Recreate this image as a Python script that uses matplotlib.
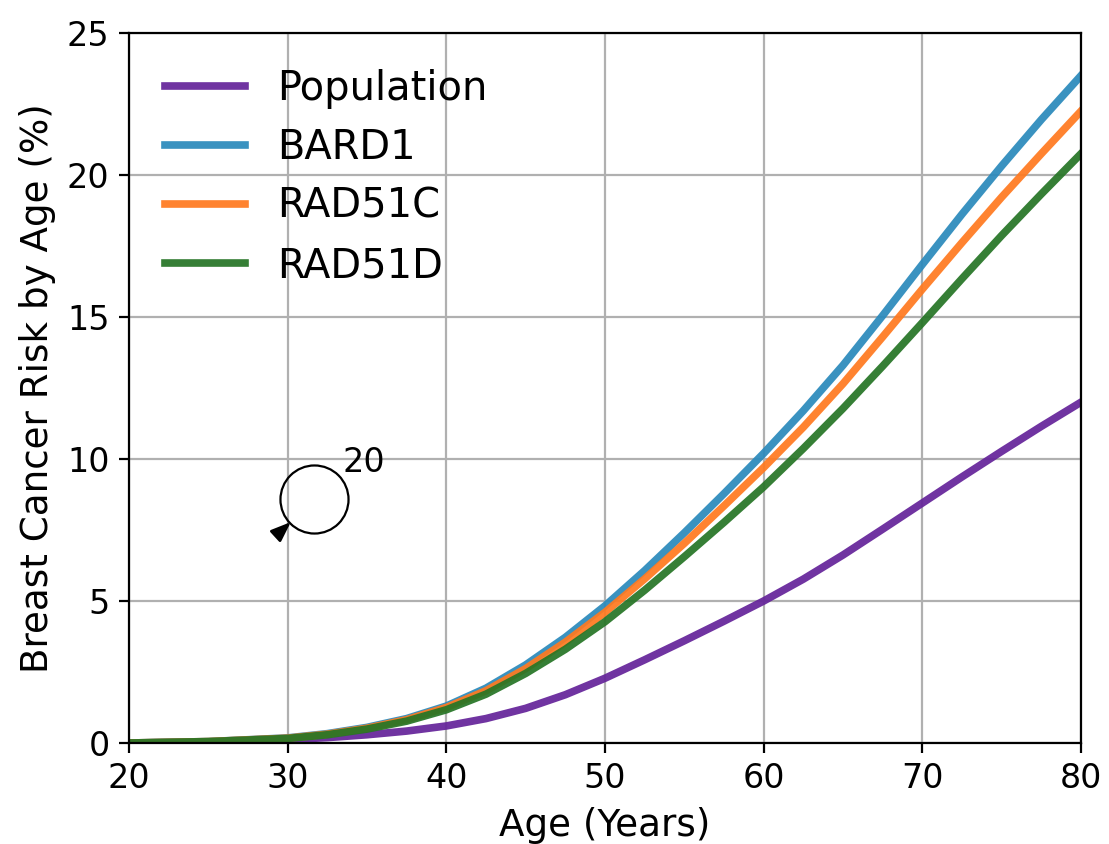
import numpy as np
import matplotlib
matplotlib.use('Agg')
import matplotlib.pyplot as plt

# values
age = [20, 25, 30, 32.5, 35, 37.5, 40, 42.5, 45, 47.5, 50, 52.5, 55, 57.5, 60, 62.5, 65, 67.5, 70, 72.5, 75, 77.5, 80]
population = [0.0, 0.03, 0.12, 0.19, 0.29, 0.42, 0.6, 0.86, 1.22, 1.7, 2.28, 2.93, 3.6, 4.29, 5.0, 5.77, 6.62, 7.53, 8.45, 9.37, 10.27, 11.15, 12.0]
bard1 = [0.0, 0.05, 0.18, 0.33, 0.55, 0.86, 1.3, 1.93, 2.75, 3.72, 4.83, 6.07, 7.4, 8.78, 10.2, 11.7, 13.3, 15.05, 16.85, 18.62, 20.32, 21.95, 23.5]
rad51c = [0.0, 0.05, 0.17, 0.31, 0.52, 0.82, 1.25, 1.84, 2.62, 3.55, 4.6, 5.78, 7.03, 8.35, 9.7, 11.12, 12.65, 14.3, 15.98, 17.62, 19.22, 20.75, 22.25]
rad51d = [0.0, 0.05, 0.16, 0.29, 0.49, 0.77, 1.17, 1.72, 2.45, 3.3, 4.27, 5.38, 6.56, 7.77, 9.02, 10.37, 11.78, 13.27, 14.8, 16.35, 17.87, 19.33, 20.75]

series_names = ['Population', 'BARD1', 'RAD51C', 'RAD51D']
series_values = [population, bard1, rad51c, rad51d]
series_colors = ['#65249a', '#2b8abc', '#ff7a20', '#267526']

fig = plt.figure(figsize=(5.545, 4.22), dpi=200)
ax = fig.add_axes([129 / 1109, 1 - 743 / 844, 952 / 1109, 710 / 844])

for name, vals, col in zip(series_names, series_values, series_colors):
    ax.plot(age, vals, color=col, linewidth=2.75, alpha=0.93, label=name)

ax.set_xlim(20, 80)
ax.set_ylim(0, 25)
ax.tick_params(labelsize=12)
ax.set_xlabel('Age (Years)', fontsize=13.4, labelpad=4)
ax.set_ylabel('Breast Cancer Risk by Age (%)', fontsize=13.4, labelpad=4)
ax.grid(True)
ax.legend(loc='upper left', frameon=False, fontsize=14.4, labelspacing=0.475)

# stray annotation in the original: a loop with an arrow head and a label
ax.plot([31.66], [8.59], marker='o', markersize=24.5, markerfacecolor='none',
        markeredgecolor='black', markeredgewidth=0.8, linestyle='none')
ax.annotate('', xy=(30.2, 7.78), xytext=(29.41, 7.375),
            arrowprops=dict(arrowstyle='-|>,head_length=0.6,head_width=0.23',
                            color='black', shrinkA=0, shrinkB=0, mutation_scale=10))
ax.text(33.48, 9.54, '20', fontsize=12)

fig.savefig('out.png', dpi=200)
